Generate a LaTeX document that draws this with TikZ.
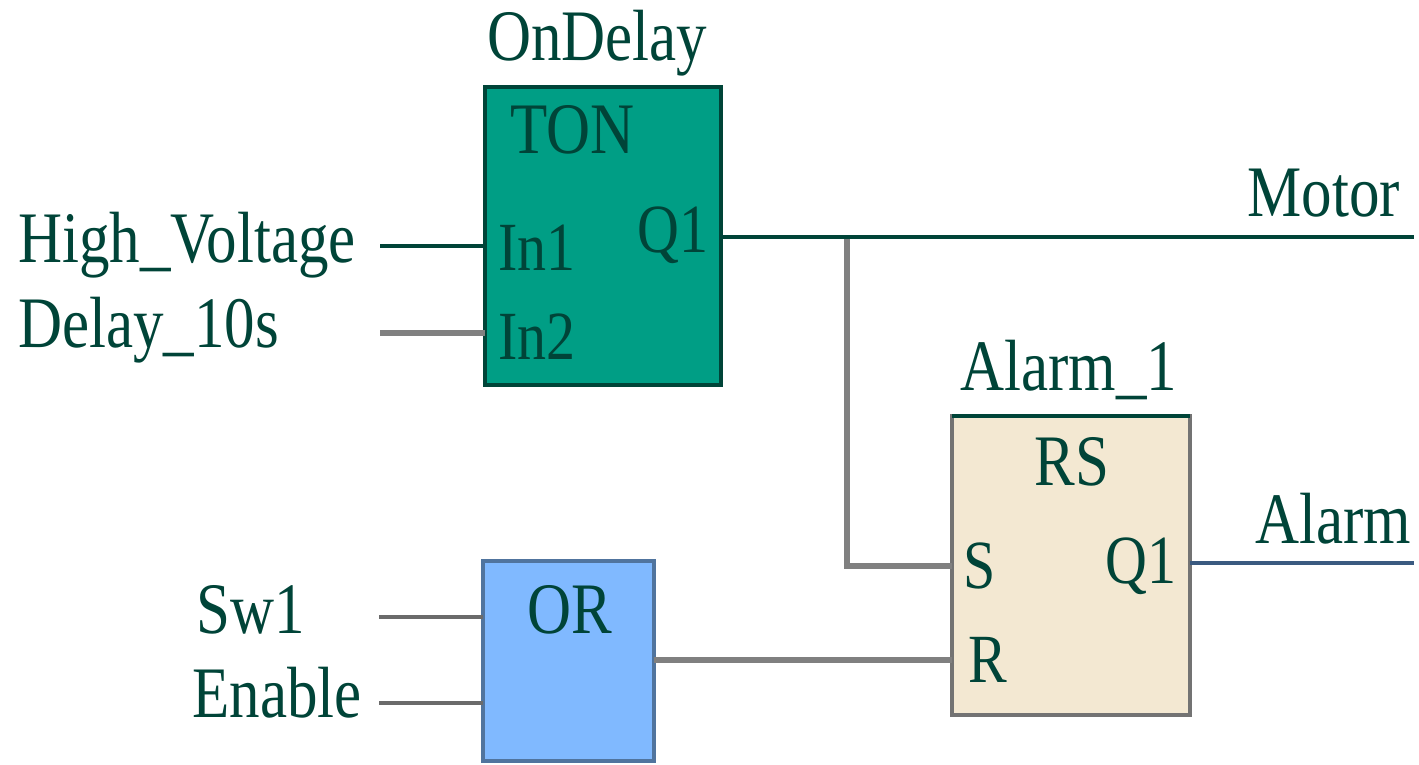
\documentclass[tikz,border=0pt]{standalone}
\usepackage{fontspec}
\setmainfont{Liberation Serif}
\definecolor{inkgreen}{HTML}{004438}
\definecolor{tonfill}{HTML}{009E85}
\definecolor{rsfill}{HTML}{F3E8D2}
\definecolor{orfill}{HTML}{80B9FF}
\definecolor{orline}{HTML}{50749E}
\definecolor{wiregray}{HTML}{808080}
\definecolor{alarmblue}{HTML}{3A5A80}
\newcommand{\tall}[1]{\scalebox{1}[1.19]{#1}}
\begin{document}
\begin{tikzpicture}[%
  x=.02cm,y=-.02cm,
  tlabel/.style={font=\fontsize{34.7}{40}\selectfont,text=inkgreen,inner sep=0pt,anchor=base west},
  pinlabel/.style={tlabel,font=\fontsize{33}{40}\selectfont},
  block/.style={draw,line width=2.3pt,inner sep=0pt,outer sep=0pt},
  tonbox/.style={block,draw=inkgreen,fill=tonfill,minimum width=4.73cm,minimum height=5.96cm},
  rsbox/.style={block,draw=black!55,fill=rsfill,minimum width=4.76cm,minimum height=5.98cm},
  orbox/.style={block,draw=orline,fill=orfill,minimum width=3.42cm,minimum height=4cm},
  darkwire/.style={draw=inkgreen,line width=1.8pt},
  graywire/.style={draw=wiregray,line width=3pt},
  thinwire/.style={draw=black!58,line width=2pt}]
\useasboundingbox (0,0) rectangle (1419,764);

\node[tonbox] (ton) at (603.2,236) {};
\node[rsbox] (rs) at (1071,565.5) {};
\node[orbox] (or) at (568.5,661) {};
\draw[darkwire,line width=2.3pt] (rs.north west) -- (rs.north east);

\coordinate (hvend) at (380,246);
\coordinate (delayend) at (380,333);
\coordinate (swend) at (379,617);
\coordinate (enend) at (379,703);
\coordinate (motorend) at (1414,237);
\coordinate (alarmend) at (1414,563);
\coordinate (branch) at (847,237);
\coordinate (sbend) at (847,566);
\coordinate (rpin) at (952,660);

\draw[darkwire] (hvend) -- (hvend -| ton.west);
\draw[graywire] (delayend) -- (delayend -| ton.west);
\draw[thinwire] (swend) -- (swend -| or.west);
\draw[thinwire] (enend) -- (enend -| or.west);
\draw[graywire] (branch) -- (sbend) -- (sbend -| rs.west);
\draw[darkwire] (motorend -| ton.east) -- (motorend);
\draw[graywire] (rpin -| or.east) -- (rpin);
\draw[draw=alarmblue,line width=1.8pt] (alarmend -| rs.east) -- (alarmend);

\node[tlabel] (ondelay) at (487,60) {\tall{OnDelay}};
\node[tlabel] (tontype) at (510,153) {\tall{TON}};
\node[pinlabel] (inone) at (498,270) {\tall{In1}};
\node[pinlabel] (intwo) at (498,359) {\tall{In2}};
\node[pinlabel] (tonq) at (637,252) {\tall{Q1}};
\node[tlabel] (highvolt) at (18,262) {\tall{High\_Voltage}};
\node[tlabel] (delay) at (18,347) {\tall{Delay\_10s}};
\node[tlabel] (motor) at (1247,216) {\tall{Motor}};
\node[tlabel] (alarmone) at (960,390) {\tall{Alarm\_1}};
\node[tlabel] (rstype) at (1034,485) {\tall{RS}};
\node[pinlabel] (spin) at (963,588) {\tall{S}};
\node[pinlabel] (rlabel) at (968,682) {\tall{R}};
\node[pinlabel] (rsq) at (1105,583) {\tall{Q1}};
\node[tlabel] (alarm) at (1255,543) {\tall{Alarm}};
\node[tlabel] (sw) at (196,633) {\tall{Sw1}};
\node[tlabel] (enable) at (192,717) {\tall{Enable}};
\node[tlabel] (ortype) at (527,633) {\tall{OR}};
\end{tikzpicture}
\end{document}
